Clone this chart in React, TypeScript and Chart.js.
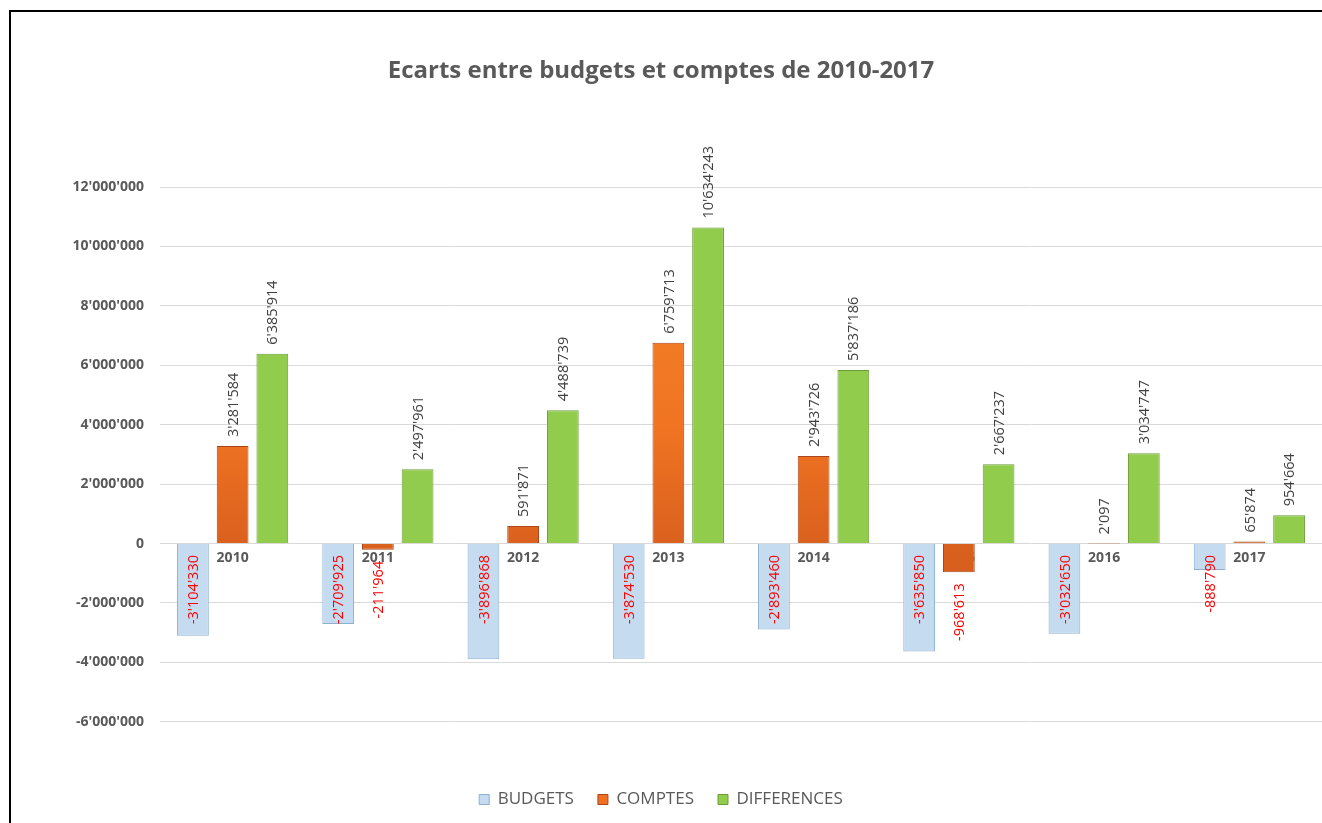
import React, { useEffect, useRef } from 'react';
import { Chart, registerables } from 'chart.js';

Chart.register(...registerables);

const years = ['2010', '2011', '2012', '2013', '2014', '2015', '2016', '2017'];
const budgets = [-3104330, -2709925, -3896868, -3874530, -2893460, -3635850, -3032650, -888790];
const comptes = [3281584, -211964, 591871, 6759713, 2943726, -968613, 2097, 65874];
const differences = [6385914, 2497961, 4488739, 10634243, 5837186, 2667237, 3034747, 954664];
const seriesNames = ['BUDGETS', 'COMPTES', 'DIFFERENCES'];
const yMin = -6000000;
const yMax = 12000000;
const yStep = 2000000;
const titleText = 'Ecarts entre budgets et comptes de 2010-2017';

const FONT = '"Open Sans", "Liberation Sans", sans-serif';

function fmt(v: number): string {
  const s = Math.abs(Math.round(v)).toString().replace(/\B(?=(\d{3})+(?!\d))/g, "'");
  return (v < 0 ? '-' : '') + s;
}

const dataLabelPlugin = {
  id: 'rotatedDataLabels',
  afterDatasetsDraw(chart: any) {
    const ctx = chart.ctx;
    ctx.save();
    ctx.font = `14.5px ${FONT}`;
    ctx.textBaseline = 'middle';
    chart.data.datasets.forEach((ds: any, di: number) => {
      const meta = chart.getDatasetMeta(di);
      meta.data.forEach((el: any, i: number) => {
        const v = ds.data[i] as number;
        const { x, y, base } = el.getProps(['x', 'y', 'base'], true);
        let ay: number;
        ctx.save();
        if (v >= 0) {
          ay = y - 9;
          ctx.fillStyle = '#404040';
          ctx.textAlign = 'left';
        } else {
          ay = (di === 0 ? base : y) + 11;
          ctx.fillStyle = '#ff0000';
          ctx.textAlign = 'right';
        }
        ctx.translate(x + 1, ay);
        ctx.rotate(-Math.PI / 2);
        ctx.fillText(fmt(v), 0, 0);
        ctx.restore();
      });
    });
    ctx.restore();
  },
};

const legendFills = ['#c5dbf0', '#ee7020', '#92cc4c'];

export default function App() {
  const ref = useRef<HTMLCanvasElement>(null);

  useEffect(() => {
    const canvas = ref.current;
    if (!canvas) return;
    const orange = (c: any) => {
      const area = c.chart.chartArea;
      if (!area) return '#ee7020';
      const g = c.chart.ctx.createLinearGradient(0, area.top, 0, area.bottom);
      g.addColorStop(0, '#f7862a');
      g.addColorStop(0.45, '#f07422');
      g.addColorStop(0.67, '#da601e');
      g.addColorStop(1, '#cc581c');
      return g;
    };
    const chart = new Chart(canvas, {
      type: 'bar',
      data: {
        labels: years,
        datasets: [
          {
            label: seriesNames[0],
            data: budgets,
            backgroundColor: '#c5dbf0',
            borderColor: '#8dafd0',
            borderWidth: 1,
          },
          {
            label: seriesNames[1],
            data: comptes,
            backgroundColor: orange,
            borderColor: '#a9471a',
            borderWidth: 1,
          },
          {
            label: seriesNames[2],
            data: differences,
            backgroundColor: '#92cc4c',
            borderColor: '#6c9c36',
            borderWidth: 1,
          },
        ],
      },
      options: {
        responsive: false,
        animation: false,
        layout: { padding: { top: 0, left: 0, right: 0, bottom: 5 } },
        datasets: {
          bar: { categoryPercentage: 0.82, barPercentage: 0.8 },
        },
        scales: {
          x: {
            position: { y: 0 } as any,
            z: 1,
            grid: { display: false, drawTicks: false },
            border: { display: false },
            ticks: {
              color: '#595959',
              font: { family: FONT, size: 14, weight: 'bold' },
              padding: 6,
            },
          },
          y: {
            min: yMin,
            max: yMax,
            afterFit: (s: any) => {
              s.width = 160;
            },
            grid: { color: '#d9d9d9', drawTicks: false },
            border: { display: false },
            ticks: {
              stepSize: yStep,
              color: '#595959',
              padding: 16,
              font: { family: FONT, size: 14, weight: 'bold' },
              callback: (v: any) => fmt(Number(v)),
            },
          },
        },
        plugins: {
          title: {
            display: true,
            text: titleText,
            color: '#595959',
            font: { family: FONT, size: 24, weight: 'bold' },
            padding: { top: 56.6, bottom: 101.6 },
          },
          legend: {
            position: 'bottom',
            title: {
              display: true,
              text: ' ',
              font: { size: 1 },
              padding: { top: 44, bottom: 0 },
            },
            labels: {
              boxWidth: 10,
              boxHeight: 10,
              padding: 24,
              color: '#595959',
              font: { family: FONT, size: 17 },
              generateLabels: (c: any) => {
                const items = Chart.defaults.plugins.legend.labels.generateLabels(c);
                items.forEach((it: any, i: number) => {
                  it.fillStyle = legendFills[i];
                });
                return items;
              },
            },
          },
          tooltip: { enabled: false },
        },
      },
      plugins: [dataLabelPlugin],
    });
    return () => chart.destroy();
  }, []);

  return (
    <div
      style={{
        position: 'absolute',
        left: 0,
        top: 0,
        width: 1322,
        height: 823,
        overflow: 'hidden',
        background: '#ffffff',
      }}
    >
      <div
        style={{
          position: 'absolute',
          left: 9,
          top: 10,
          width: 1400,
          height: 900,
          border: '2px solid #000',
          boxSizing: 'border-box',
        }}
      />
      <canvas
        ref={ref}
        width={1322}
        height={823}
        style={{ position: 'absolute', left: 0, top: 0, width: 1322, height: 823 }}
      />
    </div>
  );
}
